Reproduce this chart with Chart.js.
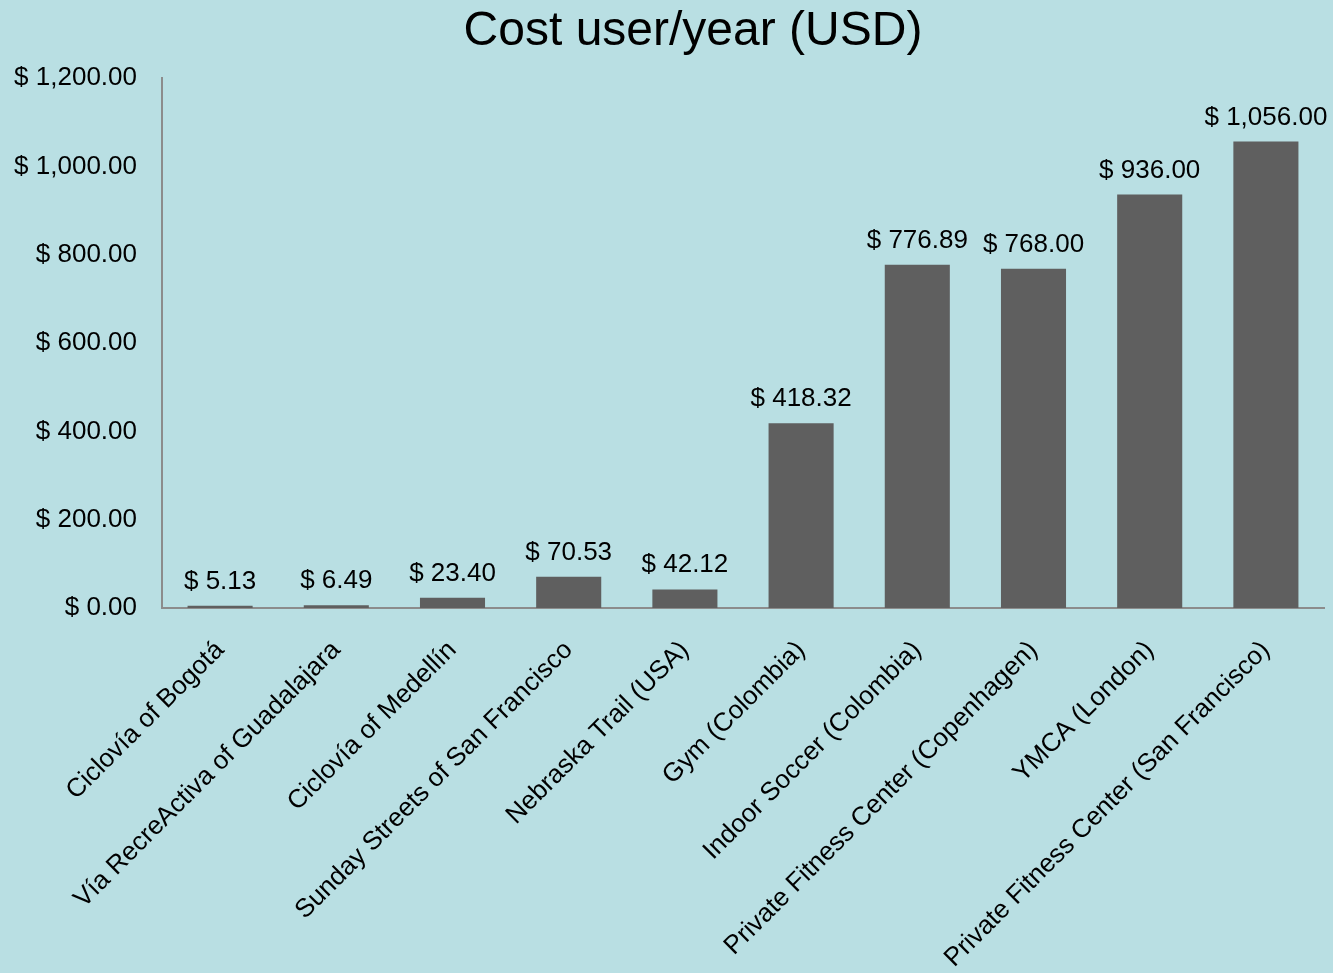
<!DOCTYPE html>
<html>
<head>
<meta charset="utf-8">
<script src="https://cdn.jsdelivr.net/npm/chart.js@4.4.1/dist/chart.umd.min.js"></script>
<style>
  html, body { margin: 0; padding: 0; background: #B9DFE3; }
  #wrap { width: 1333px; height: 973px; position: relative; }
</style>
</head>
<body>
<div id="wrap"><canvas id="c" width="1333" height="973"></canvas></div>
<script>
const categories = [
  "Ciclovía of Bogotá",
  "Vía RecreActiva of Guadalajara",
  "Ciclovía of Medellín",
  "Sunday Streets of San Francisco",
  "Nebraska Trail (USA)",
  "Gym (Colombia)",
  "Indoor Soccer (Colombia)",
  "Private Fitness Center (Copenhagen)",
  "YMCA (London)",
  "Private Fitness Center (San Francisco)"
];
const costPerUser = [5.13, 6.49, 23.40, 70.53, 42.12, 418.32, 776.89, 768.00, 936.00, 1056.00];
const yTicks = [0, 200, 400, 600, 800, 1000, 1200];
const titleText = "Cost user/year (USD)";

const FONT = "'Liberation Sans', Arial, Helvetica, sans-serif";
const BG = "#B9DFE3";
const BAR = "#5F5F5F";
const AXIS = "#8C8C8C";

function money(v) {
  return "$ " + Number(v).toLocaleString("en-US", { minimumFractionDigits: 2, maximumFractionDigits: 2 });
}

const bgPlugin = {
  id: "bg",
  beforeDraw(chart) {
    const ctx = chart.ctx;
    ctx.save();
    ctx.fillStyle = BG;
    ctx.fillRect(0, 0, chart.width, chart.height);
    ctx.restore();
  }
};

const titlePlugin = {
  id: "centredTitle",
  afterDraw(chart) {
    const ctx = chart.ctx;
    ctx.save();
    ctx.font = "48px " + FONT;
    ctx.fillStyle = "#000";
    ctx.textAlign = "center";
    ctx.textBaseline = "middle";
    ctx.fillText(titleText, 693, 32);
    ctx.restore();
  }
};

const labelPlugin = {
  id: "valueLabels",
  afterDatasetsDraw(chart) {
    const ctx = chart.ctx;
    const meta = chart.getDatasetMeta(0);
    ctx.save();
    ctx.font = "26px " + FONT;
    ctx.fillStyle = "#000";
    ctx.textAlign = "center";
    ctx.textBaseline = "alphabetic";
    meta.data.forEach((el, i) => {
      ctx.fillText(money(chart.data.datasets[0].data[i]), el.x, el.y - 17);
    });
    ctx.restore();
  }
};

new Chart(document.getElementById("c"), {
  type: "bar",
  data: {
    labels: categories,
    datasets: [{
      data: costPerUser,
      backgroundColor: BAR,
      borderWidth: 0,
      categoryPercentage: 1.0,
      barPercentage: 0.56
    }]
  },
  options: {
    responsive: false,
    animation: false,
    devicePixelRatio: 1,
    layout: { padding: { left: 0, right: 9, top: 78, bottom: 0 } },
    plugins: {
      legend: { display: false },
      tooltip: { enabled: false },
      title: { display: false }
    },
    scales: {
      x: {
        grid: { display: false, drawTicks: false },
        border: { display: true, color: AXIS, width: 2 },
        ticks: {
          color: "#000",
          font: { family: FONT, size: 26 },
          autoSkip: false,
          maxRotation: 45,
          minRotation: 45,
          padding: 27
        },
        afterFit(scale) { scale.height = 365; }
      },
      y: {
        min: 0,
        max: 1200,
        afterBuildTicks(scale) { scale.ticks = yTicks.map(v => ({ value: v })); },
        grid: { display: false, drawTicks: false },
        border: { display: true, color: AXIS, width: 2 },
        ticks: {
          color: "#000",
          font: { family: FONT, size: 26 },
          padding: 25,
          callback: (v) => money(v)
        },
        afterFit(scale) { scale.width = 162; }
      }
    }
  },
  plugins: [bgPlugin, labelPlugin, titlePlugin]
});
</script>
</body>
</html>
